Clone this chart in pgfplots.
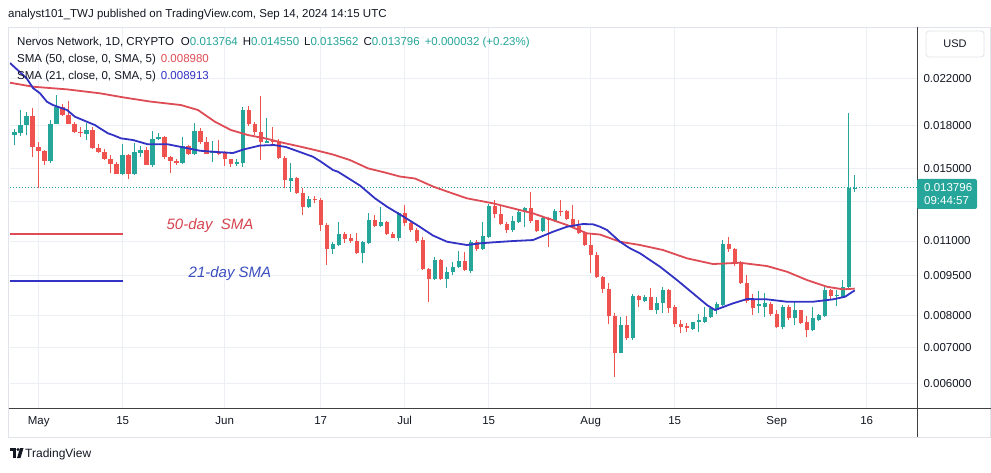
\documentclass[border=0pt]{standalone}
\usepackage{pgfplots}
\pgfplotsset{compat=1.18}
\usepackage{pgfplotstable}
\usepackage{fontspec}
\setmainfont{Liberation Sans}
\definecolor{upc}{HTML}{26A69A}
\definecolor{dnc}{HTML}{EF5350}
\definecolor{smared}{RGB}{222,76,86}
\definecolor{smablue}{RGB}{50,50,196}
\definecolor{gridc}{RGB}{236,239,244}
\definecolor{framec}{RGB}{224,227,235}
\definecolor{txt}{HTML}{131722}
\definecolor{annred}{RGB}{214,69,80}
\definecolor{annblue}{RGB}{58,78,190}

\pgfplotstableread{
d o h l c
-4 0.017314 0.017724 0.016557 0.017537
-3 0.017462 0.019220 0.017204 0.018068
-2 0.018068 0.019057 0.017277 0.018735
2 0.015498 0.018418 0.015334 0.018145
3 0.018145 0.020489 0.018106 0.019509
8 0.017388 0.018184 0.016913 0.017687
14 0.014664 0.016663 0.014570 0.015900
16 0.014664 0.016734 0.014570 0.016105
17 0.016036 0.016486 0.015731 0.016207
19 0.015236 0.017574 0.015075 0.017022
20 0.017022 0.017425 0.016913 0.017167
24 0.015334 0.017130 0.015301 0.016486
26 0.015933 0.018223 0.015866 0.017574
29 0.016002 0.016877 0.015432 0.016139
33 0.015268 0.015597 0.015139 0.015380
34 0.015366 0.019492 0.015107 0.019220
38 0.016734 0.018551 0.016698 0.016841
42 0.014233 0.015334 0.013569 0.014416
45 0.012730 0.013323 0.012659 0.013182
49 0.010630 0.010966 0.010406 0.010859
50 0.010813 0.011926 0.010767 0.011331
54 0.010437 0.010998 0.010001 0.010966
55 0.010905 0.012376 0.010859 0.012028
57 0.011740 0.012713 0.011690 0.011911
60 0.011126 0.012461 0.011022 0.012392
66 0.009354 0.010274 0.009314 0.010165
68 0.009354 0.009858 0.008991 0.009638
69 0.009626 0.010070 0.009515 0.009866
70 0.009858 0.010563 0.009803 0.010100
72 0.009700 0.011069 0.009609 0.010966
74 0.010644 0.011926 0.010585 0.011221
75 0.011188 0.012877 0.011140 0.012768
79 0.011526 0.012235 0.011453 0.011977
80 0.011951 0.012552 0.011891 0.012471
81 0.012471 0.012713 0.011675 0.012659
84 0.011501 0.012199 0.011443 0.012147
86 0.011977 0.012605 0.011926 0.012498
97 0.006834 0.007956 0.006816 0.007679
99 0.007281 0.008775 0.007229 0.008700
101 0.008528 0.008738 0.008470 0.008674
103 0.008208 0.008674 0.008059 0.008434
104 0.008434 0.009041 0.008104 0.008926
109 0.007560 0.007788 0.007527 0.007778
110 0.007778 0.008049 0.007473 0.007855
111 0.007798 0.008314 0.007745 0.007966
112 0.007966 0.008314 0.007922 0.008257
113 0.008197 0.008481 0.008059 0.008409
114 0.008392 0.011069 0.008338 0.010850
120 0.008338 0.008888 0.008093 0.008427
121 0.008292 0.008831 0.007973 0.008463
124 0.007634 0.008374 0.007550 0.008314
126 0.007912 0.008499 0.007689 0.008197
129 0.007517 0.008314 0.007486 0.007912
130 0.007855 0.008076 0.007831 0.008024
131 0.007990 0.009052 0.007966 0.008926
133 0.008689 0.008945 0.008356 0.008738
134 0.008670 0.009314 0.008645 0.009060
135 0.009052 0.018976 0.009014 0.013764
136 0.013764 0.014550 0.013562 0.013796
}\upT

\pgfplotstableread{
d o h l c
-1 0.018735 0.019426 0.015731 0.016416
0 0.016416 0.016770 0.013785 0.016173
1 0.016173 0.016242 0.015204 0.015498
4 0.019509 0.019760 0.018735 0.018855
5 0.018855 0.019971 0.018106 0.018145
6 0.018145 0.018261 0.017425 0.017537
7 0.017537 0.017877 0.017167 0.017462
9 0.017687 0.017877 0.016312 0.016381
10 0.016381 0.016627 0.016036 0.016105
11 0.016105 0.016277 0.015564 0.015631
12 0.015631 0.015866 0.014695 0.015301
13 0.015301 0.015399 0.014632 0.014664
15 0.015900 0.015968 0.014324 0.014664
18 0.016207 0.016451 0.015204 0.015236
21 0.017167 0.017241 0.015597 0.015765
22 0.015765 0.015832 0.014695 0.015498
23 0.015498 0.015631 0.015236 0.015334
25 0.016486 0.016557 0.015866 0.015968
27 0.017574 0.017800 0.016663 0.016806
28 0.016806 0.017130 0.015933 0.015968
30 0.016105 0.016913 0.015866 0.015968
31 0.016002 0.016139 0.015139 0.015577
32 0.015577 0.015631 0.015094 0.015268
35 0.019220 0.019592 0.017991 0.018106
36 0.018106 0.018284 0.017277 0.017537
37 0.017537 0.020401 0.015531 0.016770
39 0.016877 0.017877 0.016663 0.016770
40 0.016841 0.016985 0.015631 0.015698
41 0.015698 0.015798 0.013785 0.014263
43 0.014416 0.014446 0.013466 0.013523
44 0.013523 0.013815 0.012314 0.012730
46 0.013182 0.013323 0.012932 0.013115
47 0.013098 0.013193 0.011477 0.011800
48 0.011800 0.011901 0.009929 0.010653
51 0.011331 0.011443 0.010919 0.011093
52 0.011140 0.011331 0.010929 0.011022
53 0.011022 0.011365 0.010406 0.010437
56 0.012028 0.012314 0.011690 0.011750
58 0.011911 0.011977 0.011307 0.011356
59 0.011356 0.011443 0.011126 0.011164
61 0.012392 0.012822 0.011725 0.011861
62 0.011876 0.012028 0.011443 0.011526
63 0.011551 0.011610 0.010919 0.010998
64 0.011069 0.011188 0.009720 0.009782
65 0.009782 0.009790 0.008492 0.009354
67 0.010143 0.010174 0.009314 0.009354
71 0.010100 0.010509 0.009691 0.009732
73 0.010952 0.011045 0.010540 0.010644
76 0.012768 0.013098 0.012131 0.012340
77 0.012366 0.012822 0.011775 0.011825
78 0.011850 0.011926 0.011404 0.011526
82 0.012643 0.013581 0.011876 0.012002
83 0.012013 0.012053 0.011443 0.011501
85 0.012131 0.012209 0.010735 0.012028
87 0.012498 0.013098 0.012235 0.012445
88 0.012498 0.012536 0.012028 0.012095
89 0.012105 0.012822 0.011610 0.011700
90 0.011725 0.012028 0.011331 0.011365
91 0.011365 0.011404 0.010767 0.010836
92 0.010836 0.011365 0.009585 0.010361
93 0.010361 0.010495 0.009414 0.009455
94 0.009455 0.009495 0.008812 0.008975
95 0.008983 0.009184 0.007722 0.008007
96 0.008007 0.008083 0.006174 0.006834
98 0.007679 0.007990 0.007229 0.007281
100 0.008700 0.008738 0.008314 0.008543
102 0.008674 0.009002 0.008197 0.008208
105 0.008926 0.008964 0.008104 0.008274
106 0.008303 0.008374 0.007624 0.007732
107 0.007739 0.007855 0.007422 0.007634
108 0.007673 0.007745 0.007473 0.007582
115 0.010859 0.011188 0.010509 0.010653
116 0.010653 0.010698 0.009887 0.010001
117 0.010057 0.010122 0.009157 0.009196
118 0.009216 0.009536 0.008463 0.008528
119 0.008543 0.008775 0.008024 0.008257
122 0.008427 0.008481 0.007990 0.008059
123 0.008076 0.008197 0.007592 0.007634
125 0.008303 0.008392 0.007855 0.007912
127 0.008197 0.008215 0.007722 0.007755
128 0.007778 0.008007 0.007297 0.007517
132 0.008926 0.008983 0.008609 0.008689
}\dnT

\begin{document}
\begin{tikzpicture}[x=1pt,y=1pt]
\useasboundingbox (0,0) rectangle (991,472);
\fill[white] (0,0) rectangle (991,472);
\begin{axis}[
  at={(10pt,64pt)}, anchor=south west,
  width=907pt, height=381pt, scale only axis,
  xmin=-4.783, xmax=146.383,
  ymode=log, ymin=0.0053995, ymax=0.027375,
  axis line style={draw=none},
  tick style={draw=none},
  xtick={0,14,31,47,61,75,92,106,123,138},
  xticklabels={May,15,Jun,17,Jul,15,Aug,15,Sep,16},
  xticklabel style={font=\fontsize{11.5}{13}\selectfont, text=txt, yshift=-5pt},
  ytick={0.006,0.007,0.008,0.0095,0.011,0.013,0.015,0.018,0.022},
  yticklabels={0.006000,0.007000,0.008000,0.009500,0.011000,,0.015000,0.018000,0.022000},
  yticklabel pos=right,
  yticklabel style={font=\fontsize{11.5}{13}\selectfont, text=txt, anchor=west, xshift=3pt},
  grid=major, major grid style={gridc, line width=0.8pt},
  candle/.style={draw=none, mark=none, forget plot,
    error bars/y dir=plus, error bars/y explicit, error bars/error mark=none},
]
% legend lines of the SMAs
\addplot[smared, line width=1.8pt, forget plot] coordinates {(-4.783,0.011331) (14.0,0.011331)};
\addplot[smablue, line width=1.8pt, forget plot] coordinates {(-4.783,0.009275) (14.0,0.009275)};
% current price line
\addplot[upc, line width=0.8pt, dash pattern=on 1pt off 2pt, forget plot] coordinates {(-4.783,0.013796) (146.383,0.013796)};
% wicks
\addplot[candle, error bars/error bar style={draw=upc, line width=1pt}]
  table[x=d, y=l, y error expr=\thisrow{h}-\thisrow{l}] {\upT};
\addplot[candle, error bars/error bar style={draw=dnc, line width=1pt}]
  table[x=d, y=l, y error expr=\thisrow{h}-\thisrow{l}] {\dnT};
% bodies
\addplot[candle, error bars/error bar style={draw=upc, line width=4.4pt, line cap=butt}]
  table[x=d, y=o, y error expr=\thisrow{c}-\thisrow{o}] {\upT};
\addplot[candle, error bars/error bar style={draw=dnc, line width=4.4pt, line cap=butt}]
  table[x=d, y=c, y error expr=\thisrow{o}-\thisrow{c}] {\dnT};
% SMA 50
\addplot[smared, line width=1.8pt, forget plot] coordinates {
(-4.78,0.021591) (-0.95,0.021226) (4.67,0.020992) (10.22,0.020638) (14.05,0.020289)
(18.55,0.019929) (23.72,0.019634) (26.55,0.019220) (29.38,0.018284) (32.05,0.017649)
(34.88,0.017277) (37.72,0.017036) (40.38,0.016748) (43.55,0.016451) (46.05,0.016207)
(49.05,0.015900) (51.88,0.015531) (54.88,0.014992) (57.72,0.014726) (60.22,0.014477)
(62.72,0.014355) (65.72,0.013874) (68.55,0.013523) (71.38,0.013193) (75.72,0.012916)
(82.38,0.012376) (88.05,0.011775) (91.38,0.011365) (93.55,0.011307) (96.88,0.010966)
(100.22,0.010813) (104.05,0.010585) (108.05,0.010217) (112.38,0.009972) (116.88,0.010027)
(121.38,0.009887) (124.72,0.009650) (128.05,0.009314) (131.38,0.009052) (134.05,0.008953)
(136,0.008980)};
% SMA 21
\addplot[smablue, line width=1.8pt, forget plot] coordinates {
(-4.78,0.023481) (-2.0,0.022000) (-0.95,0.021109) (0.22,0.020638) (1.38,0.019911)
(2.38,0.019634) (4.72,0.019220) (6.05,0.018679) (8.05,0.018284) (9.38,0.018029)
(10.22,0.017777) (11.55,0.017403) (12.38,0.017277) (13.72,0.017036) (15.72,0.016913)
(18.22,0.016606) (21.55,0.016606) (24.88,0.016325) (26.88,0.016159) (29.05,0.016091)
(32.38,0.016002) (34.22,0.016256) (36.88,0.016521) (39.22,0.016557) (41.22,0.016416)
(43.55,0.016070) (45.72,0.015751) (47.05,0.015419) (49.05,0.014884) (49.88,0.014776)
(53.55,0.013932) (56.05,0.013193) (58.05,0.012730) (60.22,0.012314) (63.05,0.011775)
(65.72,0.011259) (68.05,0.010966) (71.38,0.010813) (73.55,0.010891) (75.72,0.010938)
(79.05,0.010998) (82.38,0.011045) (85.72,0.011443) (88.05,0.011690) (90.72,0.011825)
(92.38,0.011810) (93.55,0.011690) (94.72,0.011526) (96.88,0.010966) (98.55,0.010662)
(100.22,0.010437) (103.55,0.009858) (106.38,0.009314) (109.05,0.008801) (111.38,0.008374)
(112.72,0.008197) (115.72,0.008434) (118.05,0.008590) (121.38,0.008579) (124.72,0.008492)
(129.05,0.008492) (132.38,0.008579) (134.38,0.008674) (136,0.008913)};
\end{axis}
% frame and separators
\draw[framec, line width=0.8pt] (8.5,35) rectangle (990.5,445);
\draw[black!75, line width=0.8pt] (917,35) -- (917,445);
\draw[black!75, line width=0.8pt] (8.5,64) -- (990.5,64);
% USD box
\draw[framec, line width=0.8pt, rounded corners=3pt, fill=white] (926,415) rectangle (984,441);
\node[text=txt, font=\fontsize{11}{13}\selectfont] at (955,428) {USD};
% price tag
\fill[upc, rounded corners=2pt] (917,263) rectangle (977,293);
\node[text=white, font=\fontsize{11.5}{13}\selectfont, anchor=base west, inner sep=0] at (924,280) {0.013796};
\node[text=white, font=\fontsize{11.5}{13}\selectfont, anchor=base west, inner sep=0] at (924,267) {09:44:57};
% header
\node[anchor=base west, inner sep=0, text=txt, font=\fontsize{11.5}{13}\selectfont] at (8,454)
  {analyst101\_TWJ published on TradingView.com, Sep 14, 2024 14:15 UTC};
\node[anchor=base west, inner sep=0, font=\fontsize{11.5}{13}\selectfont] at (17,426)
  {\color{txt}Nervos Network, 1D, CRYPTO\hspace{7pt}O\color{upc}0.013764\hspace{5pt}\color{txt}H\color{upc}0.014550\hspace{5pt}\color{txt}L\color{upc}0.013562\hspace{5pt}\color{txt}C\color{upc}0.013796\hspace{5pt}+0.000032 (+0.23\%)};
\node[anchor=base west, inner sep=0, font=\fontsize{11.5}{13}\selectfont] at (17,409)
  {\color{txt}SMA (50, close, 0, SMA, 5)\hspace{5pt}\color{smared}0.008980};
\node[anchor=base west, inner sep=0, font=\fontsize{11.5}{13}\selectfont] at (17,392)
  {\color{txt}SMA (21, close, 0, SMA, 5)\hspace{5pt}\color{smablue}0.008913};
% annotations
\node[text=annred, font=\fontsize{15}{17}\selectfont\itshape] at (210,246.3) {50-day\ \ SMA};
\node[text=annblue, font=\fontsize{15}{17}\selectfont\itshape] at (230,198.7) {21-day SMA};
% TradingView logo
\fill[txt] (10,24) rectangle (16,21);
\fill[txt] (13,21) rectangle (16,14);
\fill[txt] (18,22.5) circle (1.6);
\fill[txt] (20,24) -- (23.5,24) -- (20.5,14) -- (17,14) -- cycle;
\node[anchor=base west, inner sep=0, text=txt, font=\fontsize{12}{14}\selectfont] at (25,15) {TradingView};
\end{tikzpicture}
\end{document}
